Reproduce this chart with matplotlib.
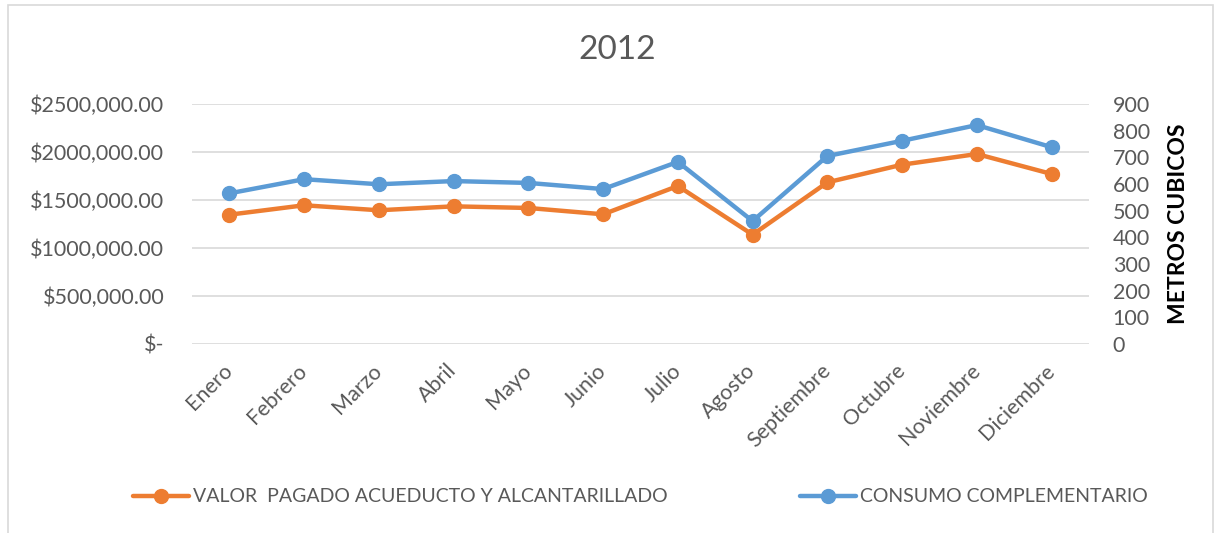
import matplotlib
matplotlib.use('Agg')
import matplotlib.pyplot as plt
from matplotlib.patches import Rectangle
from matplotlib.ticker import FuncFormatter, MultipleLocator

plt.rcParams['font.family'] = ['Lato', 'DejaVu Sans']

# datos 2012
meses = ['Enero', 'Febrero', 'Marzo', 'Abril', 'Mayo', 'Junio', 'Julio',
         'Agosto', 'Septiembre', 'Octubre', 'Noviembre', 'Diciembre']
valor_pagado = [1347000, 1445000, 1393000, 1434000, 1417000, 1351000, 1646000,
                1139000, 1684000, 1868000, 1979000, 1771000]
consumo = [565, 618, 599, 611, 604, 581, 683, 461, 705, 762, 821, 738]

naranja = '#ED7D31'
azul = '#5B9BD5'
gris = '#595959'

fig = plt.figure(figsize=(12.29, 5.33), dpi=100)

# marco del grafico
fig.patches.append(Rectangle((8 / 1229, -0.1), 1205 / 1229, 1.1 - 5 / 533,
                             transform=fig.transFigure, fill=False,
                             edgecolor='#D9D9D9', linewidth=1.2))

ax = fig.add_axes([192 / 1229, 1 - 344 / 533, 897 / 1229, 240 / 533])
ax2 = ax.twinx()

x = list(range(len(meses)))
l1, = ax.plot(x, valor_pagado, color=naranja, linewidth=3.2, marker='o',
              markersize=10, solid_capstyle='round',
              label='VALOR  PAGADO ACUEDUCTO Y ALCANTARILLADO')
l2, = ax2.plot(x, consumo, color=azul, linewidth=3.2, marker='o',
               markersize=10, solid_capstyle='round',
               label='CONSUMO COMPLEMENTARIO')

ax.set_xlim(-0.5, len(meses) - 0.5)
ax.set_ylim(0, 2500000)
ax2.set_ylim(0, 900)
ax.yaxis.set_major_locator(MultipleLocator(500000))
ax2.yaxis.set_major_locator(MultipleLocator(100))


def pesos(v, pos):
    if v == 0:
        return '$-'
    miles = int(round(v)) // 1000
    return '$%d,000.00' % miles


ax.yaxis.set_major_formatter(FuncFormatter(pesos))
ax.grid(axis='y', color='#D9D9D9', linewidth=1.2)
ax.set_axisbelow(True)

for a in (ax, ax2):
    for s in a.spines.values():
        s.set_visible(False)
    a.tick_params(length=0, colors=gris, labelsize=15.5)

ax.tick_params(axis='y', pad=20)
ax2.tick_params(axis='y', pad=17)

ax.set_xticks(x)
ax.set_xticklabels(meses, rotation=45, ha='right', va='center',
                   rotation_mode='anchor')
ax.tick_params(axis='x', pad=17)

ax2.set_ylabel('METROS CUBICOS', fontsize=16.5, fontweight='bold',
               color='black', labelpad=13)

fig.text(617 / 1229, 1 - 50 / 533, '2012', ha='center', va='center',
         fontsize=24, color=gris)

# leyenda: dos entradas colocadas por separado
for h, x0 in ((l1, 115), (l2, 782)):
    leg = fig.legend(handles=[h], loc='center left',
                     bbox_to_anchor=(x0 / 1229, 1 - 497 / 533), frameon=False,
                     fontsize=14, handlelength=2.9, handletextpad=0.2,
                     labelcolor=gris)

fig.savefig('out.png', dpi=100)
